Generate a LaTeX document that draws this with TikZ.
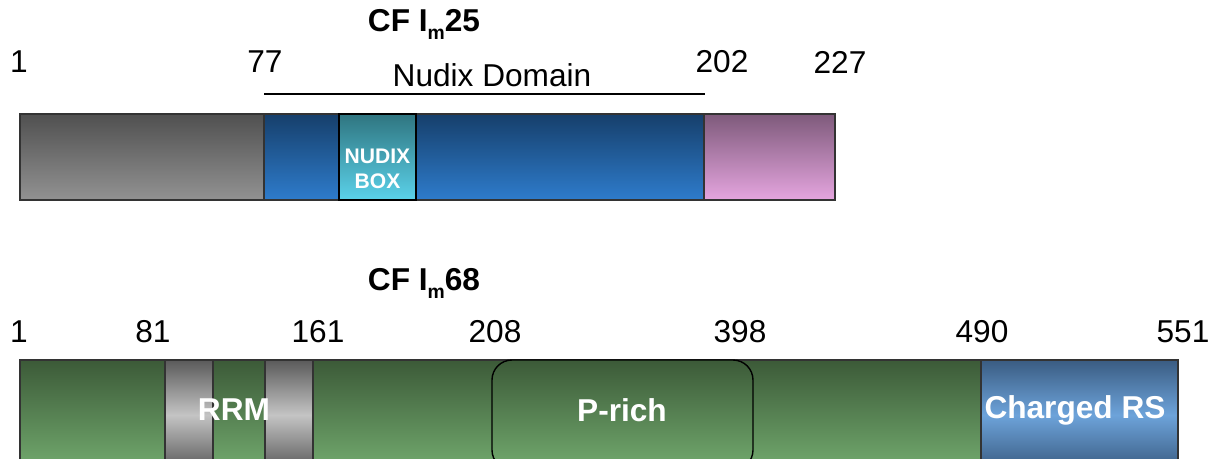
\documentclass[tikz,border=0pt]{standalone}
\usepackage{fontspec}
\setmainfont{Liberation Sans}
\usetikzlibrary{positioning}
\definecolor{greyTop}{RGB}{80,80,80}
\definecolor{greyBot}{RGB}{146,146,146}
\definecolor{nudixTop}{RGB}{22,63,107}
\definecolor{nudixBot}{RGB}{46,124,204}
\definecolor{boxTop}{RGB}{47,117,128}
\definecolor{boxBot}{RGB}{91,210,234}
\definecolor{pinkTop}{RGB}{126,90,123}
\definecolor{pinkBot}{RGB}{229,165,223}
\definecolor{greenTop}{RGB}{60,90,56}
\definecolor{greenBot}{RGB}{114,170,110}
\definecolor{rrmDark}{RGB}{90,90,90}
\definecolor{rrmLight}{RGB}{196,196,196}
\definecolor{rsDark}{RGB}{58,92,130}
\definecolor{rsLight}{RGB}{109,163,218}
\newcommand{\subm}{\raisebox{-0.25em}{\fontsize{11}{11}\selectfont m}}

\begin{document}
\begin{tikzpicture}[x=0.02cm, y=-0.02cm,
  num/.style={font=\fontsize{18}{20}\selectfont},
  ttl/.style={font=\bfseries\fontsize{18}{20}\selectfont},
  inlbl/.style={text=white, font=\bfseries\fontsize{18}{20}\selectfont},
  seg/.style={draw=black!80, line width=0.8pt}]
\useasboundingbox (0,0) rectangle (1225,458);
\clip (0,0) rectangle (1225,458);

% CF Im25
\node[ttl] (ttlA) at (424,24) {CF I\subm25};
\shade[seg, top color=greyTop, bottom color=greyBot] (20,114) rectangle (264,200);
\shade[seg, top color=nudixTop, bottom color=nudixBot] (264,114) rectangle (704,200);
\shade[seg, top color=pinkTop, bottom color=pinkBot] (704,114) rectangle (835,200);
\shade[draw=black, line width=1.4pt, top color=boxTop, bottom color=boxBot] (339,114) rectangle (416,200);
\node[align=center, text=white, font=\bfseries\fontsize{12}{14}\selectfont] (nbox) at (377.5,169) {NUDIX\\BOX};
\node[num] (a1) at (19,62) {1};
\node[num] (a77) at (265,62) {77};
\node[num] (a202) at (722,62) {202};
\node[num] (a227) at (840,62) {227};
\coordinate (ndL) at (264,94);
\coordinate (ndR) at (705,94);
\draw[line width=0.8pt] (ndL) -- (ndR);
\node[num] (ndom) at (492,75) {Nudix Domain};

% CF Im68
\node[ttl] (ttlB) at (424,283) {CF I\subm68};
\shade[seg, top color=greenTop, bottom color=greenBot] (20,360) rectangle (1178,470);
\shade[seg, top color=rrmDark, bottom color=rrmDark, middle color=rrmLight] (165,360) rectangle (213,470);
\shade[seg, top color=rrmDark, bottom color=rrmDark, middle color=rrmLight] (265,360) rectangle (313,470);
\shade[draw=black, line width=0.8pt, rounded corners=0.4cm, top color=greenTop, bottom color=greenBot] (492,360) rectangle (753,470);
\shade[seg, top color=rsDark, bottom color=rsDark, middle color=rsLight] (981,360) rectangle (1178,470);
\node[inlbl] (rrm) at (234,410) {RRM};
\node[inlbl] (prich) at (622,410) {P-rich};
\node[inlbl] (crs) at (1075,410) {Charged RS};
\node[num] (b1) at (19,332) {1};
\node[num] (b81) at (153,332) {81};
\node[num] (b161) at (318,332) {161};
\node[num] (b208) at (495,332) {208};
\node[num] (b398) at (740,332) {398};
\node[num] (b490) at (982,332) {490};
\node[num] (b551) at (1183,332) {551};
\end{tikzpicture}
\end{document}
